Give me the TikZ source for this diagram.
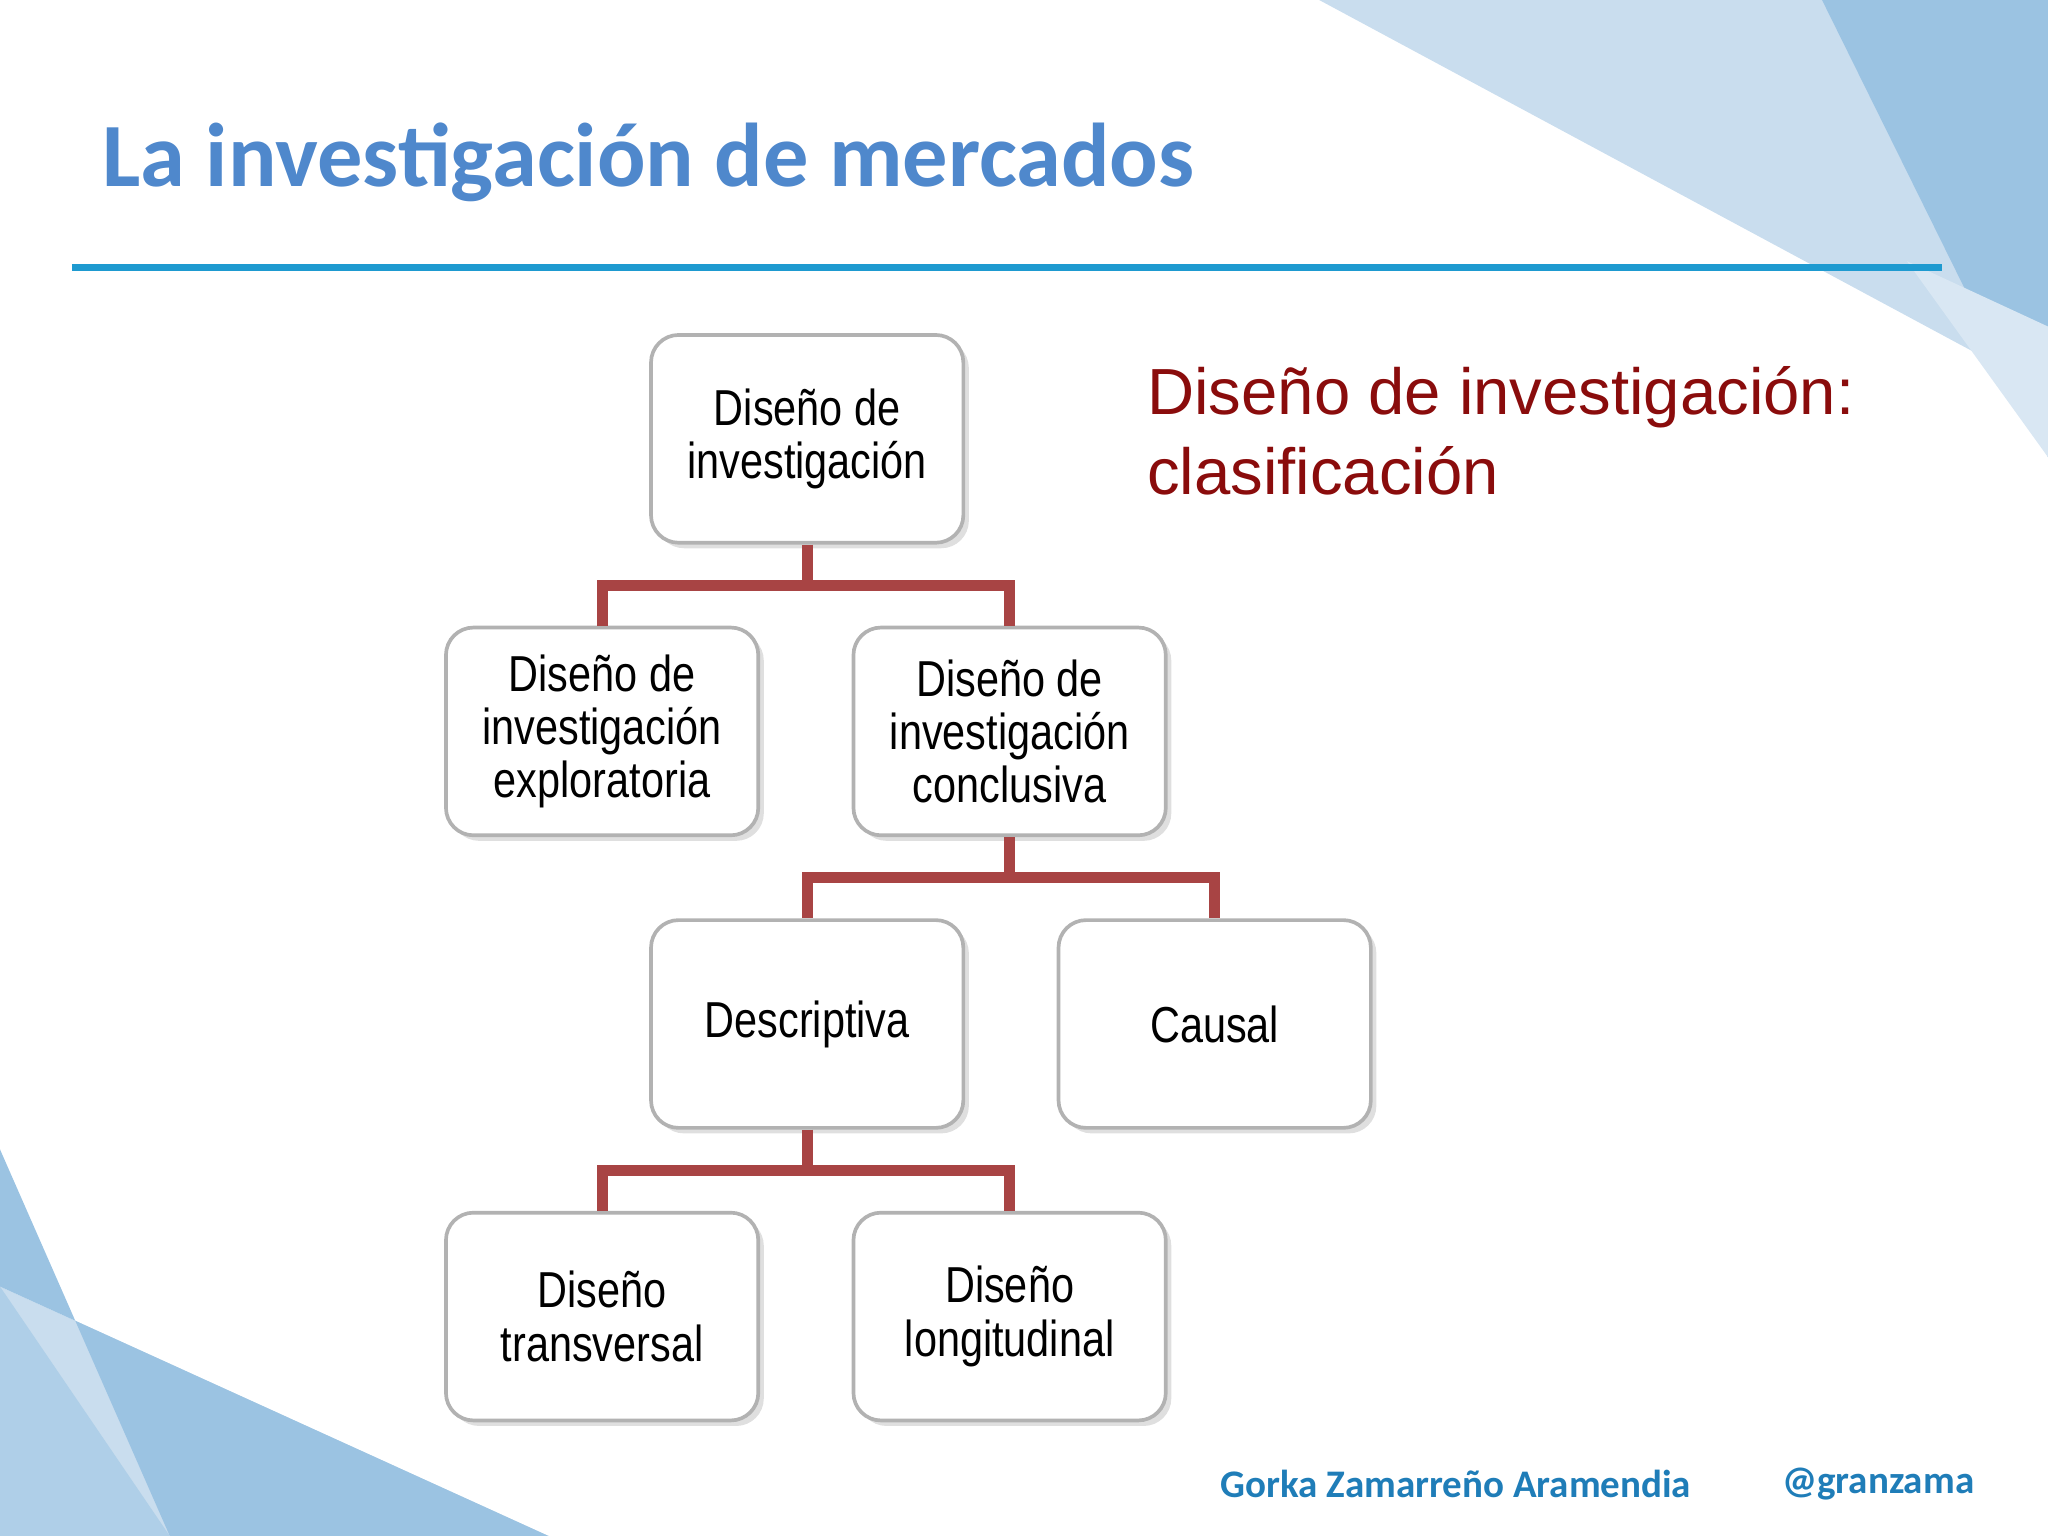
\documentclass[tikz,border=0pt]{standalone}
\usepackage{fontspec}
\usetikzlibrary{shadows}
\setmainfont{Liberation Sans}
\newfontfamily\boxfont[FakeStretch=0.82]{Liberation Sans}
\newfontfamily\calib{Carlito}
\definecolor{titleblue}{HTML}{4F88CC}
\definecolor{linebl}{HTML}{1E9AD0}
\definecolor{conn}{HTML}{A84444}
\definecolor{subred}{HTML}{8A0C0C}
\definecolor{foot}{HTML}{1F7DB8}
\definecolor{bg1}{HTML}{C9DDEE}
\definecolor{bg2}{HTML}{9BC3E2}
\begin{document}
\begin{tikzpicture}[x=0.01cm,y=-0.01cm,
  bx/.style={draw=gray!60,line width=0.8pt,rounded corners=6pt,fill=white,minimum width=2.39cm,minimum height=1.59cm,align=center,font=\boxfont\fontsize{11}{11.6}\selectfont,drop shadow={opacity=0.25,shadow xshift=1.2pt,shadow yshift=-1.2pt}},
  cn/.style={draw=conn,line width=2.4pt}]
\useasboundingbox (0,0) rectangle (1568,1176);
% background
\fill[bg1] (1010,0) -- (1568,0) -- (1568,300) -- cycle;
\fill[bg2] (1395,0) -- (1568,0) -- (1568,350) -- cycle;
\fill[bg1!70] (1460,200) -- (1568,250) -- (1568,350) -- cycle;
\fill[bg1] (0,880) -- (0,1176) -- (420,1176) -- (0,985) -- cycle;
\fill[bg2] (0,985) -- (420,1176) -- (130,1176) -- (0,880) -- cycle;
\fill[bg2!80] (0,985) -- (130,1176) -- (0,1176) -- cycle;
% title
\node[anchor=west,font=\calib\bfseries\fontsize{19.7}{22}\selectfont,text=titleblue] (title) at (66,124) {La investigación de mercados};
\draw[linebl,line width=0.05cm] (55,205) -- (1487,205);
\node[anchor=north west,align=left,font=\fontsize{14.2}{17.5}\selectfont,text=subred] (sub) at (866,268) {Diseño de investigación:\\clasificación};
% boxes
\node[bx] (a) at (618,336) {Diseño de\\investigación};
\node[bx] (b) at (461,560) {Diseño de\\investigación\\exploratoria};
\node[bx] (c) at (773,560) {Diseño de\\investigación\\conclusiva};
\node[bx] (d) at (618,784) {Descriptiva};
\node[bx] (e) at (930,784) {Causal};
\node[bx] (f) at (461,1008) {Diseño\\transversal};
\node[bx] (g) at (773,1008) {Diseño\\longitudinal};
% connectors
\draw[cn] (a.south) -- ++(0,31) -| (b.north);
\draw[cn] (a.south) ++(0,31) -| (c.north);
\draw[cn] (c.south) -- ++(0,31) -| (d.north);
\draw[cn] (c.south) ++(0,31) -| (e.north);
\draw[cn] (d.south) -- ++(0,31) -| (f.north);
\draw[cn] (d.south) ++(0,31) -| (g.north);
% footer
\node[anchor=west,font=\calib\bfseries\fontsize{8.5}{10}\selectfont,text=foot] (au) at (922,1136) {Gorka Zamarreño Aramendia};
\node[anchor=east,font=\calib\bfseries\fontsize{8.5}{10}\selectfont,text=foot] (tw) at (1524,1136) {@granzama};
\end{tikzpicture}
\end{document}
